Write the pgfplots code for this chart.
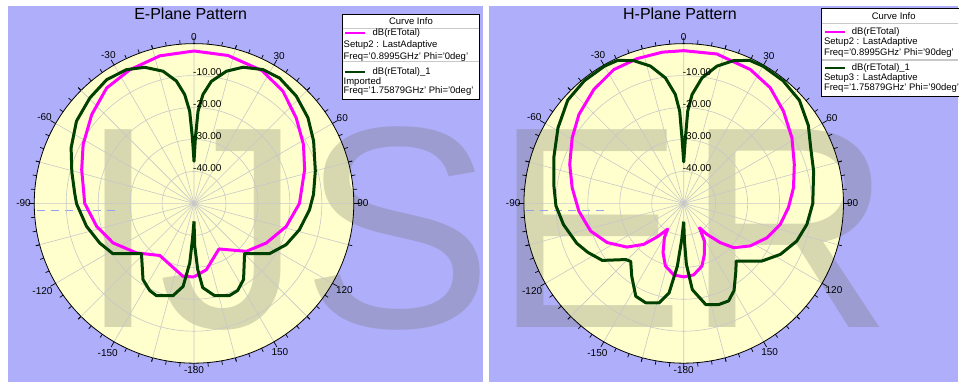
\documentclass[border=0pt]{standalone}
\usepackage{pgfplots}
\pgfplotsset{compat=1.18}
\usepackage{pgfplotstable}
\usepgfplotslibrary{polar}
\usepackage{fontspec}
\setmainfont{Liberation Sans}

\definecolor{panel}{RGB}{174,174,250}
\definecolor{disk}{RGB}{255,255,205}
\definecolor{gridc}{RGB}{200,200,200}
\definecolor{curveA}{RGB}{255,0,255}
\definecolor{curveB}{RGB}{0,64,0}
\definecolor{wmark}{RGB}{110,110,100}
\definecolor{dashc}{RGB}{150,160,245}
\definecolor{sepc}{RGB}{200,200,200}

% t = angle in degrees (0 at top, clockwise), db = dB(rETotal)
\pgfplotstableread{
t db
-180 -27.0
-171.4 -26.9
-146.7 -30.5
-130.7 -26.25
-116.0 -21.8
-103.3 -18.7
-90.0 -15.8
-73.3 -13.3
-62.0 -10.7
-49.0 -7.6
-37.1 -4.7
-25.6 -3.6
-13.0 -2.6
0 -2.3
13.0 -2.5
27.2 -3.3
38.4 -5.2
50.1 -8.3
61.7 -11.1
73.0 -13.8
90.0 -17.0
104.0 -20.25
118.7 -24.2
132.5 -27.8
151.3 -33.75
169.4 -28.9
180 -27.0
}\EmagTbl

\pgfplotstableread{
t db
-180 -44.4
-177.5 -38.7
-175.9 -31.3
-172.5 -23.8
-167.2 -20.4
-157.8 -18.85
-153.1 -19.4
-146.2 -21.3
-133.7 -27.25
-121.7 -20.1
-112.8 -18.0
-102.0 -15.6
-90.2 -13.25
-85.0 -12.5
-75.5 -10.5
-65.7 -7.8
-55.0 -5.1
-44.6 -3.6
-35.2 -2.6
-26.8 -3.1
-19.9 -4.7
-13.2 -7.5
-8.2 -11.3
-4.9 -15.8
-2.7 -21.1
-1.4 -29.5
0 -36.8
1.2 -29.5
2.5 -21.1
4.7 -15.8
8.1 -11.4
13.8 -7.4
19.8 -4.7
27.2 -2.9
34.3 -2.5
43.6 -3.6
53.1 -5.4
62.5 -7.8
75.0 -10.7
85.7 -12.5
93.1 -13.8
104.0 -16.0
114.1 -18.4
123.6 -21.6
134.8 -27.7
146.9 -21.6
153.4 -19.5
158.9 -19.1
167.4 -20.4
174.1 -23.5
176.8 -29.3
179.0 -36.6
180 -44.4
}\EgrnTbl

\pgfplotstableread{
t db
-180 -27.0
-172.1 -27.4
-163.7 -29.6
-157.2 -33.3
-150.6 -37.7
-148.0 -40.5
-141.6 -36.6
-135.7 -32.1
-127.6 -27.6
-117.1 -23.1
-106.5 -19.6
-94.2 -17.1
-82.0 -14.75
-71.1 -12.3
-59.5 -9.5
-49.7 -7.0
-38.3 -4.6
-27.6 -2.75
-17.8 -2.4
-8.0 -2.2
0 -2.2
12.5 -2.1
26.5 -3.2
36.8 -4.8
47.3 -7.5
58.8 -10.4
70.6 -13.3
81.9 -15.3
92.3 -17.2
102.3 -19.1
112.4 -21.8
122.6 -25.3
131.5 -29.1
137.0 -33.2
143.1 -37.9
147.0 -40.9
151.2 -36.6
157.9 -32.8
163.7 -29.6
172.1 -27.4
180 -27.0
}\HmagTbl

\pgfplotstableread{
t db
-180 -44.3
-176.8 -38.6
-174.2 -30.2
-170.7 -21.6
-166.1 -17.9
-159.1 -16.7
-152.7 -17.3
-144.5 -22.0
-137.6 -25.4
-134.1 -24.75
-125.0 -18.9
-117.0 -16.3
-110.5 -14.3
-100.0 -11.8
-91.0 -10.0
-81.7 -8.9
-70.6 -6.9
-59.0 -4.1
-48.3 -1.4
-39.0 -0.6
-30.0 -0.4
-24.8 -0.7
-19.3 -2.65
-13.6 -5.8
-8.3 -10.3
-4.4 -15.8
-2.5 -21.1
-1.5 -29.5
0 -37.0
1.5 -29.5
2.5 -21.1
4.4 -15.8
8.3 -10.3
13.6 -5.8
19.3 -2.65
24.8 -0.7
30.0 -0.4
39.0 -0.6
48.3 -1.5
58.0 -4.0
66.3 -6.6
76.0 -8.1
90.0 -9.6
99.7 -10.9
108.4 -12.7
117.8 -15.8
126.4 -19.6
137.7 -25.6
142.3 -23.3
150.0 -18.5
155.3 -16.4
160.8 -16.5
167.7 -17.6
174.3 -22.9
177.5 -31.0
178.8 -38.0
180 -44.3
}\HgrnTbl

\pgfplotsset{
  patternaxis/.style={
    anchor=center, scale only axis, width=320pt, height=320pt,
    xmin=0, xmax=360, ymin=0, ymax=50,
    xtick={0,30,...,330},
    xticklabels={90,60,30,0,-30,-60,-90,-120,-150,-180,150,120},
    minor x tick num=5,
    extra x ticks={15,45,...,345},
    extra x tick labels={},
    extra x tick style={grid=major, major tick length=4pt},
    ytick={10,20,30,40}, yticklabels={},
    ytick style={draw=none},
    y axis line style={draw=none},
    xtick align=inside,
    major tick length=6pt, minor tick length=4pt,
    xtick style={black, line width=0.7pt},
    grid=major,
    major grid style={gridc, line width=0.6pt},
    axis line style={black, line width=0.8pt},
    x axis line style={black, line width=0.8pt},
    xticklabel style={font=\fontsize{10}{12}\selectfont, text=black},
    clip=false,
  },
  pat/.style={line width=3pt, line join=round},
}

% angle measured clockwise from the top, level shifted so that -50 dB sits at the centre
\newcommand\patplot[2]{%
  \addplot[pat, draw=#1] table[x expr=90-\thisrow{t}, y expr=\thisrow{db}+50] {#2};}

\newcommand\ringlabels{%
  \node[anchor=west, inner sep=0pt, xshift=-1pt, yshift=3.5pt, font=\fontsize{10}{12}\selectfont] at (axis cs:90,10) {-40.00};
  \node[anchor=west, inner sep=0pt, xshift=-1pt, yshift=3.5pt, font=\fontsize{10}{12}\selectfont] at (axis cs:90,20) {-30.00};
  \node[anchor=west, inner sep=0pt, xshift=-1pt, yshift=3.5pt, font=\fontsize{10}{12}\selectfont] at (axis cs:90,30) {-20.00};
  \node[anchor=west, inner sep=0pt, xshift=-1pt, yshift=3.5pt, font=\fontsize{10}{12}\selectfont] at (axis cs:90,40) {-10.00};
}

\begin{document}
\begin{tikzpicture}
\begin{scope}[x=1pt, y=-1pt]
  \path[use as bounding box] (0,0) rectangle (959,383);
  \fill[white] (0,0) rectangle (959,383);
  \fill[panel] (8,6) rectangle (484,383);
  \fill[panel] (490,6) rectangle (959,383);
  \coordinate (cL) at (194.3,203.7);
  \coordinate (cR) at (684.7,203.7);
  \fill[disk] (cL) circle[radius=160pt];
  \fill[disk] (cR) circle[radius=160pt];
  % watermark
  \node[anchor=base west, inner sep=0pt, text=wmark, text opacity=0.27,
        font=\fontsize{288}{288}\selectfont] at (78,328) {IJSER};
  \draw[dashc, dash pattern=on 8pt off 6pt, line width=1pt] (37,211) -- (115,211);
  \draw[dashc, dash pattern=on 8pt off 6pt, line width=1pt] (527,211) -- (605,211);
\end{scope}

% E-plane
\begin{polaraxis}[patternaxis, at={(cL)}]
  \patplot{curveA}{\EmagTbl}
  \patplot{curveB}{\EgrnTbl}
  \ringlabels
\end{polaraxis}

% H-plane
\begin{polaraxis}[patternaxis, at={(cR)}]
  \patplot{curveA}{\HmagTbl}
  \patplot{curveB}{\HgrnTbl}
  \ringlabels
\end{polaraxis}

\begin{scope}[x=1pt, y=-1pt]
  \node[anchor=base, inner sep=0pt, font=\fontsize{16}{19}\selectfont] at (191,20) {E-Plane Pattern};
  \node[anchor=base, inner sep=0pt, font=\fontsize{16}{19}\selectfont] at (681,20) {H-Plane Pattern};

  % curve info, E-plane
  \fill[white] (342.5,14) rectangle (480,100);
  \draw[sepc, line width=1.2pt] (343,28.5) -- (479.5,28.5);
  \draw[sepc, line width=1.2pt] (343,61.5) -- (479.5,61.5);
  \draw[black, line width=0.8pt] (342.5,14) rectangle (480,100);
  \node[font=\fontsize{9.5}{11}\selectfont, inner sep=0pt] at (411.5,21) {Curve Info};
  \draw[draw=curveA, line width=2pt] (345,33.5) -- (366,33.5);
  \node[anchor=west, inner sep=0pt, font=\fontsize{9.5}{11}\selectfont] at (373,33.5) {dB(rETotal)};
  \node[anchor=west, inner sep=0pt, font=\fontsize{9.5}{11}\selectfont] at (344,45.5) {Setup2 : LastAdaptive};
  \node[anchor=west, inner sep=0pt, font=\fontsize{9.5}{11}\selectfont] at (344,57) {Freq='0.8995GHz' Phi='0deg'};
  \draw[draw=curveB, line width=2pt] (345,72.5) -- (366,72.5);
  \node[anchor=west, inner sep=0pt, font=\fontsize{9.5}{11}\selectfont] at (373,72.5) {dB(rETotal)\_1};
  \node[anchor=west, inner sep=0pt, font=\fontsize{9.5}{11}\selectfont] at (344,82) {Imported};
  \node[anchor=west, inner sep=0pt, font=\fontsize{9.5}{11}\selectfont] at (344,91.5) {Freq='1.75879GHz' Phi='0deg'};

  % curve info, H-plane
  \fill[white] (822.5,8) rectangle (959,97);
  \draw[sepc, line width=1.2pt] (823,23.5) -- (959,23.5);
  \draw[sepc, line width=1.2pt] (823,60) -- (959,60);
  \draw[black, line width=0.8pt] (960,8) -- (822.5,8) -- (822.5,97) -- (960,97);
  \node[font=\fontsize{9.5}{11}\selectfont, inner sep=0pt] at (895,15.7) {Curve Info};
  \draw[draw=curveA, line width=2pt] (826,31.7) -- (846,31.7);
  \node[anchor=west, inner sep=0pt, font=\fontsize{9.5}{11}\selectfont] at (853,31.7) {dB(rETotal)};
  \node[anchor=west, inner sep=0pt, font=\fontsize{9.5}{11}\selectfont] at (825,42.3) {Setup2 : LastAdaptive};
  \node[anchor=west, inner sep=0pt, font=\fontsize{9.5}{11}\selectfont] at (825,53) {Freq='0.8995GHz' Phi='90deg'};
  \draw[draw=curveB, line width=2pt] (826,68.3) -- (846,68.3);
  \node[anchor=west, inner sep=0pt, font=\fontsize{9.5}{11}\selectfont] at (853,68.3) {dB(rETotal)\_1};
  \node[anchor=west, inner sep=0pt, font=\fontsize{9.5}{11}\selectfont] at (825,78.3) {Setup3 : LastAdaptive};
  \node[anchor=west, inner sep=0pt, font=\fontsize{9.5}{11}\selectfont] at (825,88.3) {Freq='1.75879GHz' Phi='90deg'};
\end{scope}
\end{tikzpicture}
\end{document}
